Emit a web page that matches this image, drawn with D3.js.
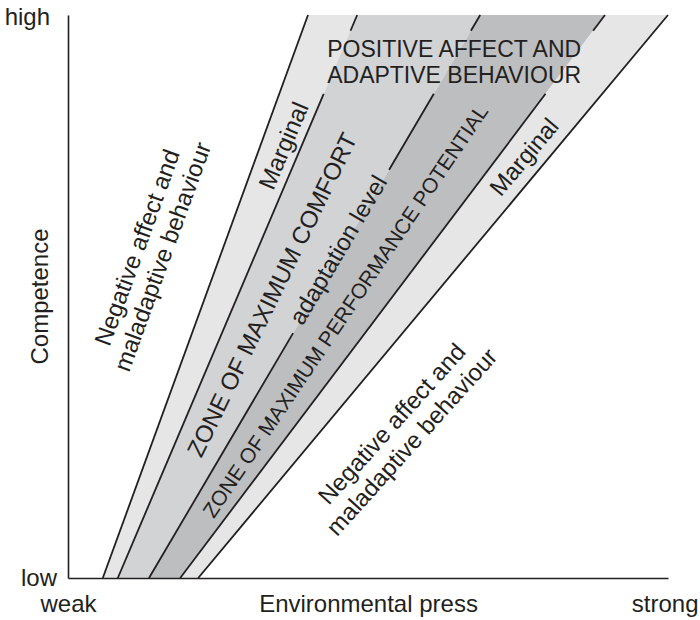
<!DOCTYPE html>
<html>
<head>
<meta charset="utf-8">
<script src="https://cdn.jsdelivr.net/npm/d3@7"></script>
<style>
  body { margin: 0; background: #fff; }
  svg text { font-family: "Liberation Sans", Arial, Helvetica, sans-serif; fill: #231f20; }
  .axis path { stroke: #231f20; stroke-width: 1.6; }
  .axis text { font-size: 24px; }
</style>
</head>
<body>
<div id="chart"></div>
<script>
// boundary lines of the zones: environmental press (0-100) where each one
// meets low competence (0) and high competence (100)
var boundaries = ["outer left", "comfort left", "adaptation level", "performance right", "outer right"];
var pressAtLow = [5.8, 8.3, 13.5, 18.7, 21.7];
var pressAtHigh = [40, 48.2, 68.7, 89.5, 100];

// competence ranges where a boundary is broken for the labels
var lineGaps = [[], [[86, 97.2]], [[86, 97.2], [43.5, 72.5]], [[86, 97.2]], []];

// zones sit between boundary i and i+1
var zones = ["Marginal", "Zone of maximum comfort", "Zone of maximum performance potential", "Marginal"];

// axis labels
var yTickValues = [0, 100], yTickLabels = ["low", "high"];
var xTickValues = [0, 50, 100], xTickLabels = ["weak", "Environmental press", "strong"];

var zoneColors = ["#e6e6e7", "#d2d3d4", "#bdbec0", "#e6e6e7"];

var width = 700, height = 620;
var svg = d3.select("#chart").append("svg")
    .attr("width", width)
    .attr("height", height);

var xScale = d3.scaleLinear().domain([0, 100]).range([68, 668]);
var yScale = d3.scaleLinear().domain([0, 100]).range([578, 15]);

// x position of a boundary at a given competence
function pressAt(i, c) {
  return pressAtLow[i] + (pressAtHigh[i] - pressAtLow[i]) * c / 100;
}

var line = d3.line()
    .x(function(d) { return xScale(d[0]); })
    .y(function(d) { return yScale(d[1]); });

// zone fills
svg.selectAll(".zone")
    .data(zones)
  .enter().append("path")
    .attr("class", "zone")
    .attr("d", function(d, i) {
      return line([[pressAt(i, 0), 0], [pressAt(i + 1, 0), 0],
                   [pressAt(i + 1, 100), 100], [pressAt(i, 100), 100]]) + "Z";
    })
    .style("fill", function(d, i) { return zoneColors[i]; })
    .style("stroke", "none");

// boundary lines, split where the labels break them
boundaries.forEach(function(b, i) {
  var cuts = [0];
  lineGaps[i].slice().sort(function(a, b) { return a[0] - b[0]; }).forEach(function(g) {
    cuts.push(g[0], g[1]);
  });
  cuts.push(100);
  for (var k = 0; k < cuts.length; k += 2) {
    svg.append("path")
        .attr("class", "boundary")
        .attr("d", line([[pressAt(i, cuts[k]), cuts[k]], [pressAt(i, cuts[k + 1]), cuts[k + 1]]]))
        .style("fill", "none")
        .style("stroke", "#231f20")
        .style("stroke-width", 1.8);
  }
});

// axes
var yAxis = d3.axisLeft(yScale)
    .tickValues(yTickValues)
    .tickFormat(function(d, i) { return yTickLabels[i]; })
    .tickSize(0).tickPadding(11);
var xAxis = d3.axisBottom(xScale)
    .tickValues(xTickValues)
    .tickFormat(function(d, i) { return xTickLabels[i]; })
    .tickSize(0).tickPadding(17);

svg.append("g")
    .attr("class", "y axis")
    .attr("transform", "translate(" + xScale(0) + ",0)")
    .call(yAxis)
    .call(function(g) {
      g.selectAll("text").attr("fill", "#231f20");
      g.selectAll(".tick").filter(function(d) { return d == 100; })
          .select("text").attr("dx", -7).attr("dy", "0.38em");
    });

svg.append("g")
    .attr("class", "x axis")
    .attr("transform", "translate(0," + yScale(0) + ")")
    .call(xAxis)
    .call(function(g) {
      g.selectAll("text").attr("fill", "#231f20");
      // keep "strong" inside the page
      g.selectAll(".tick").filter(function(d) { return d == 100; })
          .select("text").attr("text-anchor", "end").attr("x", 30);
    });

svg.append("text")
    .attr("transform", "translate(48," + yScale(50) + ") rotate(-90)")
    .style("text-anchor", "middle")
    .style("font-size", "24px")
    .text("Competence");

// labels inside the plot, positioned in press/competence units
var labels = [
  {lines: ["Negative affect and", "maladaptive behaviour"], x: 13.6, y: 57.9, angle: -70, size: 24},
  {lines: ["Marginal"], x: 35.9, y: 76.8, angle: -67, size: 24},
  {lines: ["ZONE OF MAXIMUM COMFORT"], x: 34, y: 50.3, angle: -64, size: 24},
  {lines: ["adaptation level"], x: 45, y: 58.3, angle: -59.5, size: 24},
  {lines: ["ZONE OF MAXIMUM PERFORMANCE POTENTIAL"], x: 46.2, y: 47.4, angle: -56, size: 21},
  {lines: ["Marginal"], x: 76, y: 74.8, angle: -50, size: 24},
  {lines: ["Negative affect and", "maladaptive behaviour"], x: 55.6, y: 25.8, angle: -48, size: 24}
];

labels.forEach(function(l) {
  var t = svg.append("text")
      .attr("transform", "translate(" + xScale(l.x) + "," + yScale(l.y) + ") rotate(" + l.angle + ")")
      .style("text-anchor", "middle")
      .style("font-size", l.size + "px");
  l.lines.forEach(function(s, j) {
    t.append("tspan")
        .attr("x", 0)
        .attr("y", (j - (l.lines.length - 1) / 2) * 27)
        .attr("dy", "0.35em")
        .text(s);
  });
});

var topLabel = svg.append("text")
    .style("font-size", "23px");
["POSITIVE AFFECT AND", "ADAPTIVE BEHAVIOUR"].forEach(function(s, j) {
  topLabel.append("tspan")
      .attr("x", xScale(43.2))
      .attr("y", yScale(92.5) + j * 26)
      .text(s);
});
</script>
</body>
</html>
